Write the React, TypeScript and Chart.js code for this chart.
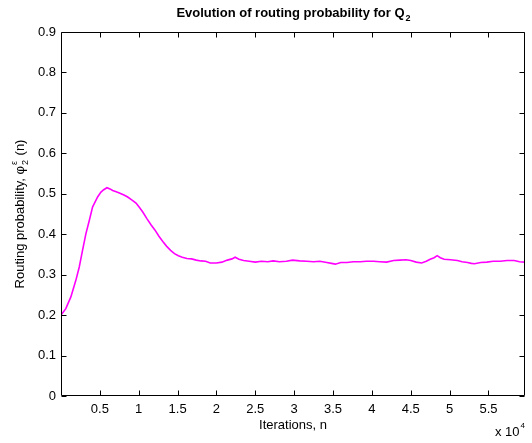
import React, { useEffect, useRef } from "react";
import { Chart, registerables } from "chart.js";

Chart.register(...registerables);

const iterations = [
  0, 620, 1270, 1910, 2350, 2770, 3200, 3640, 4060, 4710, 5140, 5500, 5910, 6300, 6650, 7100,
  7510, 8100, 8580, 9100, 9650, 10100, 10520, 11070, 11600, 12100, 12600, 13100, 13600, 14100,
  14600, 15100, 15600, 16200, 16800, 17400, 18000, 18600, 19200, 20000, 20700, 21400, 22000,
  22400, 22900, 23500, 24200, 25000, 25800, 26600, 27300, 28100, 29000, 29800, 30700, 31600,
  32500, 33300, 34200, 34800, 35300, 36000, 36800, 37600, 38500, 39300, 40200, 41000, 41900,
  42800, 43600, 44400, 45000, 45700, 46400, 47000, 47500, 48000, 48400, 48800, 49300, 50100,
  51000, 51600, 52300, 52800, 53200, 54000, 54800, 55600, 56500, 57400, 58300, 59000, 59700,
];

const probability = [
  0.2, 0.216, 0.245, 0.286, 0.319, 0.36, 0.401, 0.434, 0.467, 0.492, 0.504, 0.51, 0.515, 0.512,
  0.508, 0.505, 0.502, 0.497, 0.492, 0.485, 0.477, 0.466, 0.455, 0.438, 0.423, 0.41, 0.395, 0.382,
  0.37, 0.36, 0.352, 0.347, 0.343, 0.34, 0.339, 0.336, 0.334, 0.333, 0.329, 0.329, 0.331, 0.336,
  0.339, 0.343, 0.338, 0.335, 0.333, 0.331, 0.333, 0.332, 0.334, 0.332, 0.333, 0.336, 0.334,
  0.333, 0.332, 0.333, 0.33, 0.328, 0.326, 0.33, 0.33, 0.332, 0.332, 0.333, 0.333, 0.332, 0.331,
  0.335, 0.336, 0.337, 0.335, 0.331, 0.329, 0.333, 0.338, 0.342, 0.347, 0.342, 0.338, 0.337,
  0.335, 0.332, 0.33, 0.328, 0.327, 0.33, 0.331, 0.333, 0.333, 0.335, 0.335, 0.332, 0.331,
];

const xTickValues = [5000, 10000, 15000, 20000, 25000, 30000, 35000, 40000, 45000, 50000, 55000];
const yTickValues = [0, 0.1, 0.2, 0.3, 0.4, 0.5, 0.6, 0.7, 0.8, 0.9];

const xMin = 0;
const xMax = 59700;
const yMin = 0;
const yMax = 0.9;

const titleMain = "Evolution of routing probability for Q";
const titleSub = "2";
const xLabel = "Iterations, n";
const yLabelMain = "Routing probability, φ";
const yLabelSub = "2";
const yLabelSup = "ε";
const yLabelTail = " (n)";
const exponentBase = "x 10";
const exponentPow = "4";

const FONT = "'Liberation Sans', Arial, Helvetica, sans-serif";

const decorPlugin = {
  id: "matlabDecor",
  afterDatasetsDraw(chart: any) {
    const { ctx, chartArea } = chart;
    const { left, right, top, bottom } = chartArea;
    const xs = chart.scales.x;
    const ys = chart.scales.y;
    ctx.save();
    ctx.strokeStyle = "#000";
    ctx.lineWidth = 1;
    const L = Math.round(left) + 0.5;
    const R = Math.round(right) - 0.5;
    const T = Math.round(top) + 0.5;
    const B = Math.round(bottom) - 0.5;
    ctx.beginPath();
    ctx.rect(L, T, R - L, B - T);
    ctx.stroke();
    const tl = 5;
    ctx.beginPath();
    xs.ticks.forEach((t: any) => {
      if (t.value <= xMin) return;
      const px = Math.round(xs.getPixelForValue(t.value)) + 0.5;
      ctx.moveTo(px, B);
      ctx.lineTo(px, B - tl);
      ctx.moveTo(px, T);
      ctx.lineTo(px, T + tl);
    });
    ys.ticks.forEach((t: any) => {
      const py = Math.round(ys.getPixelForValue(t.value)) + 0.5;
      ctx.moveTo(L, py);
      ctx.lineTo(L + tl, py);
      ctx.moveTo(R, py);
      ctx.lineTo(R - tl, py);
    });
    ctx.stroke();

    ctx.fillStyle = "#000";
    const cx = (left + right) / 2;

    // Title
    ctx.font = `bold 13px ${FONT}`;
    const wMain = ctx.measureText(titleMain).width;
    ctx.font = `bold 9px ${FONT}`;
    const wSub = ctx.measureText(titleSub).width;
    const tx = cx - (wMain + wSub) / 2;
    ctx.textBaseline = "alphabetic";
    ctx.textAlign = "left";
    ctx.font = `bold 13px ${FONT}`;
    ctx.fillText(titleMain, tx, 17);
    ctx.font = `bold 9px ${FONT}`;
    ctx.fillText(titleSub, tx + wMain + 1, 21);

    // X label
    ctx.font = `13px ${FONT}`;
    ctx.textAlign = "center";
    ctx.fillText(xLabel, cx, 429);

    // Exponent
    ctx.textAlign = "left";
    ctx.font = `13px ${FONT}`;
    const wb = ctx.measureText(exponentBase).width;
    ctx.font = `8px ${FONT}`;
    const wp = ctx.measureText(exponentPow).width;
    const ex = right - wb - wp - 1;
    ctx.font = `13px ${FONT}`;
    ctx.fillText(exponentBase, ex, 436);
    ctx.font = `8px ${FONT}`;
    ctx.fillText(exponentPow, ex + wb + 1, 428);

    // Y label (rotated)
    ctx.save();
    ctx.translate(24, (top + bottom) / 2);
    ctx.rotate(-Math.PI / 2);
    ctx.font = `13px ${FONT}`;
    const w1 = ctx.measureText(yLabelMain).width;
    ctx.font = `9px ${FONT}`;
    const w2 = Math.max(ctx.measureText(yLabelSub).width, ctx.measureText(yLabelSup).width);
    ctx.font = `13px ${FONT}`;
    const w3 = ctx.measureText(yLabelTail).width;
    const total = w1 + w2 + 2 + w3;
    let x0 = -total / 2;
    ctx.textAlign = "left";
    ctx.textBaseline = "alphabetic";
    ctx.fillText(yLabelMain, x0, 0);
    x0 += w1 + 1;
    ctx.font = `9px ${FONT}`;
    ctx.fillText(yLabelSub, x0, 4);
    ctx.fillText(yLabelSup, x0, -7);
    x0 += w2 + 1;
    ctx.font = `13px ${FONT}`;
    ctx.fillText(yLabelTail, x0, 0);
    ctx.restore();

    ctx.restore();
  },
};

export default function App() {
  const ref = useRef<HTMLCanvasElement | null>(null);
  useEffect(() => {
    document.body.style.margin = "0";
    const canvas = ref.current;
    if (!canvas) return;
    const points = iterations.map((x, i) => ({ x, y: probability[i] }));
    const chart = new Chart(canvas, {
      type: "line",
      data: {
        datasets: [
          {
            data: points,
            borderColor: "#ff00ff",
            borderWidth: 1.6,
            pointRadius: 0,
            tension: 0,
            fill: false,
          },
        ],
      },
      options: {
        responsive: false,
        animation: false,
        devicePixelRatio: 1,
        layout: { padding: { left: 0, right: 7, top: 32, bottom: 0 } },
        plugins: {
          legend: { display: false },
          title: { display: false },
          tooltip: { enabled: false },
        },
        scales: {
          x: {
            type: "linear",
            min: xMin,
            max: xMax,
            grid: { display: false, drawTicks: false },
            border: { display: false },
            afterBuildTicks: (s: any) => {
              s.ticks = xTickValues.map((v) => ({ value: v }));
            },
            afterFit: (s: any) => {
              s.height = 47;
            },
            ticks: {
              autoSkip: false,
              maxRotation: 0,
              padding: 6,
              color: "#000",
              font: { family: FONT, size: 13 },
              callback: (v: any) => String(Number(v) / 1e4),
            },
          },
          y: {
            type: "linear",
            min: yMin,
            max: yMax,
            grid: { display: false, drawTicks: false },
            border: { display: false },
            afterBuildTicks: (s: any) => {
              s.ticks = yTickValues.map((v) => ({ value: v }));
            },
            afterFit: (s: any) => {
              s.width = 61;
            },
            ticks: {
              autoSkip: false,
              padding: 5,
              color: "#000",
              font: { family: FONT, size: 13 },
              callback: (v: any) => {
                const n = Number(v);
                return n === 0 ? "0" : n.toFixed(1);
              },
            },
          },
        },
      },
      plugins: [decorPlugin],
    });
    return () => chart.destroy();
  }, []);
  return <canvas ref={ref} width={532} height={443} style={{ display: "block" }} />;
}
